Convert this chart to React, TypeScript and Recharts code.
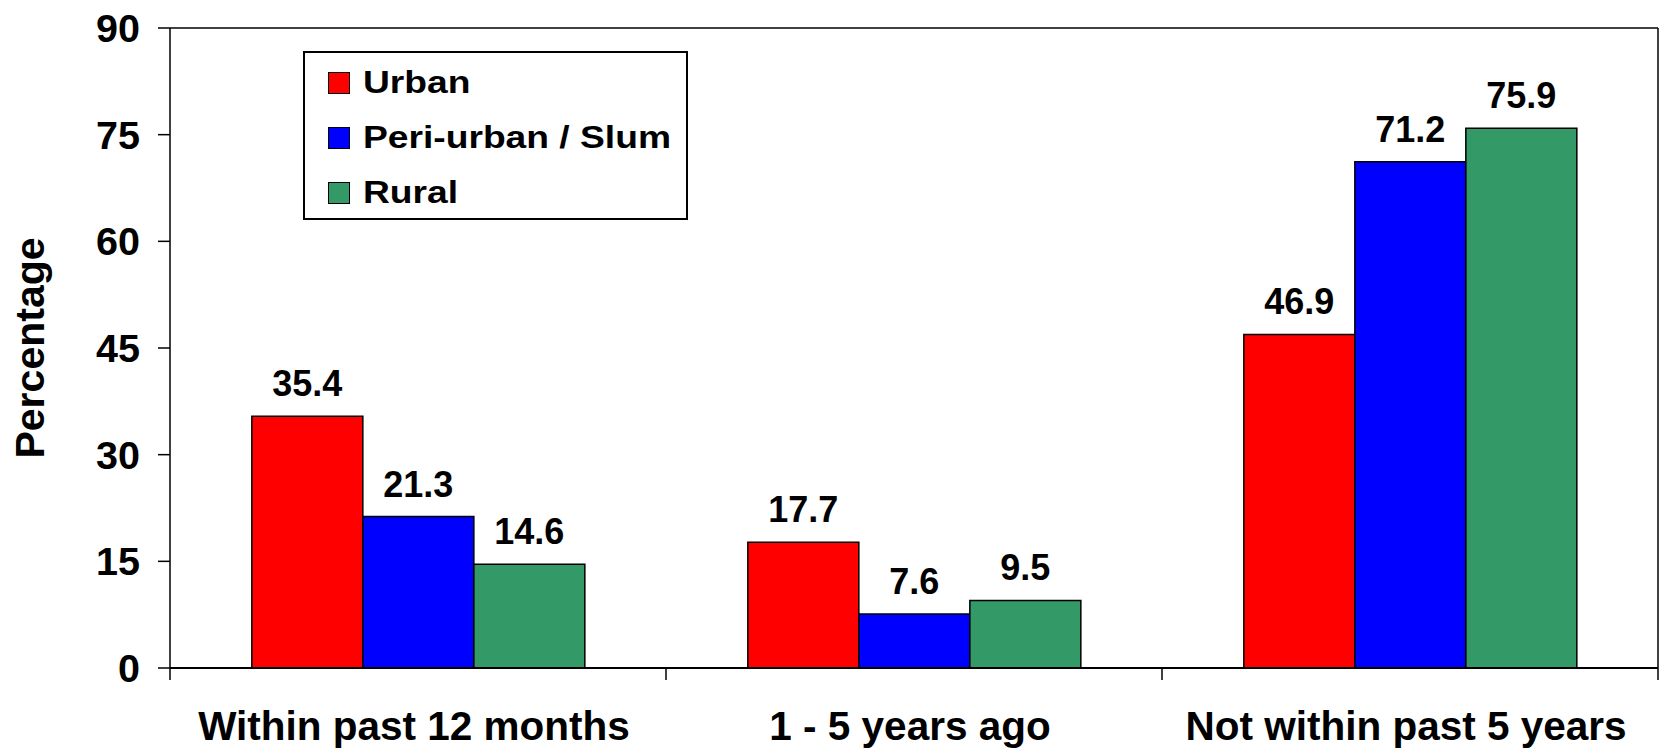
import React from 'react'
import {
  BarChart,
  Bar,
  XAxis,
  YAxis,
  Legend,
  LabelList,
} from 'recharts'

const FONT = '"Liberation Sans", Arial, Helvetica, sans-serif'

const categories = ['Within past 12 months', '1 - 5 years ago', 'Not within past 5 years']
const urban = [35.4, 17.7, 46.9]
const periUrban = [21.3, 7.6, 71.2]
const rural = [14.6, 9.5, 75.9]
const yTicks = [0, 15, 30, 45, 60, 75, 90]

const seriesInfo = [
  { key: 'urban', name: 'Urban', color: '#FF0000' },
  { key: 'peri', name: 'Peri-urban / Slum', color: '#0000FF' },
  { key: 'rural', name: 'Rural', color: '#339966' },
]

const chartData = categories.map((cat, i) => ({
  cat,
  urban: urban[i],
  peri: periUrban[i],
  rural: rural[i],
}))

// category label plus the little boundary ticks between the groups
function CategoryTick(props: any) {
  const { x, y, payload, index } = props
  const half = payload.offset ?? 0
  const last = index === categories.length - 1
  return (
    <g>
      <line x1={x - half} x2={x - half} y1={y} y2={y + 12} stroke="#000" strokeWidth={1.5} />
      {last && (
        <line x1={x + half} x2={x + half} y1={y} y2={y + 12} stroke="#000" strokeWidth={1.5} />
      )}
      <text
        x={x - 4}
        y={y + 72}
        textAnchor="middle"
        fontFamily={FONT}
        fontWeight="bold"
        fontSize={40.5}
        fill="#000"
      >
        {payload.value}
      </text>
    </g>
  )
}

function LegendBox() {
  return (
    <div
      style={{
        boxSizing: 'border-box',
        width: 385,
        height: 169,
        border: '2px solid #000',
        background: '#fff',
        paddingTop: 2,
        fontFamily: FONT,
        fontWeight: 'bold',
      }}
    >
      {seriesInfo.map((s) => (
        <div
          key={s.key}
          style={{ height: 55, display: 'flex', alignItems: 'center', paddingLeft: 23 }}
        >
          <span
            style={{
              boxSizing: 'border-box',
              width: 22,
              height: 22,
              background: s.color,
              border: '1.5px solid #000',
              flexShrink: 0,
            }}
          />
          <span
            style={{
              display: 'inline-block',
              marginLeft: 13,
              fontSize: 31,
              lineHeight: '31px',
              whiteSpace: 'nowrap',
              transform: 'scaleX(1.2)',
              transformOrigin: 'left center',
              color: '#000',
            }}
          >
            {s.name}
          </span>
        </div>
      ))}
    </div>
  )
}

function YLabel(props: any) {
  const { viewBox } = props
  const cx = 44
  const cy = viewBox.y + viewBox.height / 2
  return (
    <text
      x={cx}
      y={cy}
      transform={`rotate(-90, ${cx}, ${cy})`}
      textAnchor="middle"
      fontFamily={FONT}
      fontWeight="bold"
      fontSize={41}
      fill="#000"
    >
      Percentage
    </text>
  )
}

export default function App() {
  return (
    <div style={{ position: 'absolute', left: 0, top: 0, width: 1665, height: 750, background: '#fff' }}>
      <BarChart
        width={1665}
        height={750}
        data={chartData}
        margin={{ top: 27, right: 6, left: 0, bottom: 0 }}
        barCategoryGap="16.5%"
        barGap={0}
      >
        <XAxis
          dataKey="cat"
          interval={0}
          height={82}
          tickLine={false}
          tickSize={0}
          tickMargin={0}
          axisLine={{ stroke: '#000', strokeWidth: 2 }}
          tick={<CategoryTick />}
        />
        <XAxis
          xAxisId="top"
          orientation="top"
          dataKey="cat"
          height={1}
          tick={false}
          tickLine={false}
          axisLine={{ stroke: '#000', strokeWidth: 1.5 }}
        />
        <YAxis
          domain={[0, 90]}
          ticks={yTicks}
          width={170}
          tickSize={12}
          tickMargin={18}
          axisLine={{ stroke: '#000', strokeWidth: 1.5 }}
          tickLine={{ stroke: '#000', strokeWidth: 1.5 }}
          tick={{ fontFamily: FONT, fontWeight: 'bold', fontSize: 39.5, fill: '#000' }}
          label={<YLabel />}
        />
        <YAxis
          yAxisId="right"
          orientation="right"
          domain={[0, 90]}
          width={1}
          tick={false}
          tickLine={false}
          axisLine={{ stroke: '#000', strokeWidth: 1.5 }}
        />
        <Legend
          layout="vertical"
          align="center"
          verticalAlign="middle"
          wrapperStyle={{ left: 303, top: 51, width: 385, height: 169 }}
          content={<LegendBox />}
        />
        {seriesInfo.map((s) => (
          <Bar
            key={s.key}
            dataKey={s.key}
            name={s.name}
            fill={s.color}
            stroke="#000"
            strokeWidth={1.5}
            isAnimationActive={false}
          >
            <LabelList
              dataKey={s.key}
              position="top"
              offset={20}
              fill="#000"
              fontFamily={FONT}
              fontWeight="bold"
              fontSize={36}
            />
          </Bar>
        ))}
      </BarChart>
    </div>
  )
}
